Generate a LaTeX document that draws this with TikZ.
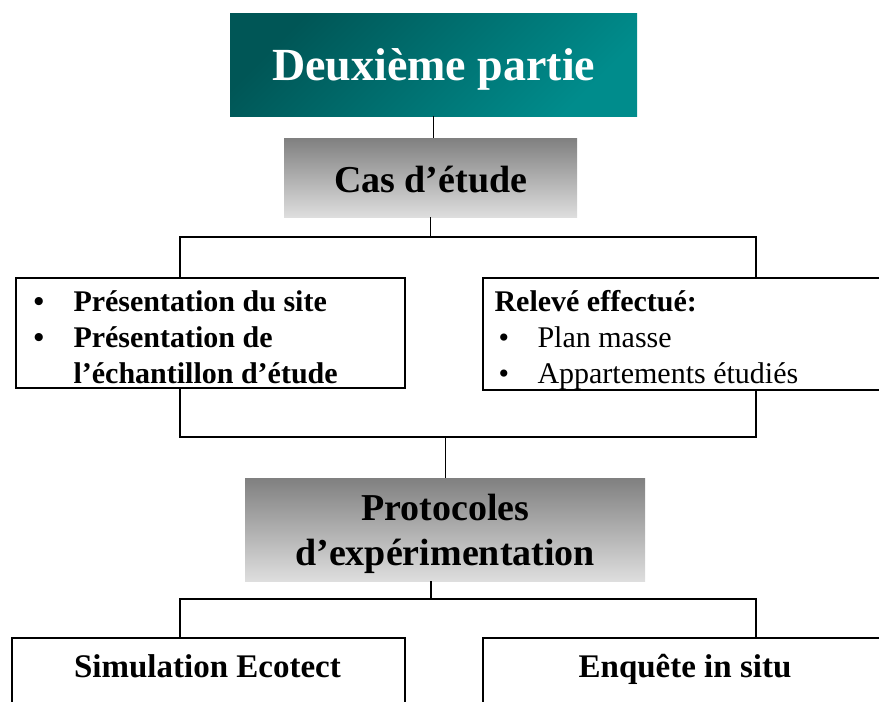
\documentclass[tikz,border=0pt]{standalone}
\usepackage{fontspec}
\setmainfont{Liberation Serif}
\usetikzlibrary{calc}
\definecolor{tealdark}{RGB}{0,86,86}
\definecolor{teallight}{RGB}{0,140,140}
\definecolor{greytop}{RGB}{128,128,128}
\definecolor{greybot}{RGB}{222,222,222}
\newcommand{\titlefont}{\fontsize{46}{50}\selectfont\bfseries}
\newcommand{\headfont}{\fontsize{38}{45}\selectfont\bfseries}
\newcommand{\itemfont}{\fontsize{30}{36}\selectfont}
\newcommand{\footfont}{\fontsize{33}{40}\selectfont\bfseries}
\tikzset{
  titlebox/.style={anchor=north west, inner sep=0pt, top color=tealdark,
    bottom color=teallight, shading angle=45, text=white, font=\titlefont,
    text height=41pt, text depth=10pt},
  greybox/.style={anchor=north west, inner sep=0pt, top color=greytop,
    bottom color=greybot, font=\headfont},
  whitebox/.style={draw, line width=1.5pt, anchor=north west, inner sep=0pt, fill=white},
  wire/.style={line width=1.3pt},
}

\begin{document}
\begin{tikzpicture}[x=1pt,y=-1pt]
    \useasboundingbox (0,0) rectangle (879,702);
    \clip (0,0) rectangle (879,702);

    \node[titlebox, minimum width=407pt, minimum height=103pt] (part) at (230,13) {Deuxième partie};
    \node[greybox, minimum width=293pt, minimum height=79pt,
        text height=38pt, text depth=9pt] (cas) at (284,138) {Cas d’étude};

    \node[whitebox, minimum width=389pt, minimum height=110pt] (site) at (15,277) {};
    \node[whitebox, minimum width=420pt, minimum height=112pt] (releve) at (482,277) {};
    \node[anchor=base west, font=\itemfont\bfseries] (sitetxt) at (26,311)
        {\begin{tabular}[t]{@{}p{44pt}@{}l@{}}
            \hspace{4pt}\textbullet & Présentation du site\\
            \hspace{4pt}\textbullet & Présentation de\\
                        & l’échantillon d’étude
        \end{tabular}};
    \node[anchor=base west, font=\itemfont] (relevetxt) at (491,311)
        {\begin{tabular}[t]{@{}p{43pt}@{}l@{}}
            \multicolumn{2}{@{}l@{}}{\bfseries Relevé effectué:}\\
            \hspace{4pt}\textbullet & Plan masse\\
            \hspace{4pt}\textbullet & Appartements étudiés
        \end{tabular}};

    \node[greybox, minimum width=400pt, minimum height=103pt,
        text height=31pt, text depth=50pt] (proto) at (245,478)
        {\begin{tabular}[t]{@{}c@{}}Protocoles\\ d’expérimentation\end{tabular}};

    \node[whitebox, minimum width=393pt, minimum height=100pt] (simu) at (11,637) {};
    \node[whitebox, minimum width=420pt, minimum height=100pt] (enq) at (482,637) {};
    \node[anchor=base, font=\footfont] (simutxt) at (207.5,677) {Simulation Ecotect};
    \node[anchor=base, font=\footfont] (enqtxt) at (685,677) {Enquête in situ};

    \coordinate (al) at (180,237);
    \coordinate (ar) at (756,237);
    \coordinate (bl) at (180,437);
    \coordinate (br) at (756,437);
    \coordinate (cm) at (431,599);
    \coordinate (cl) at (180,599);
    \coordinate (cr) at (756,599);

    \draw[wire] (part.south) -- (part.south |- cas.north);
    \draw[wire] (cas.south) -- (cas.south |- al);
    \draw[wire] (site.north -| al) -- (al) -- (ar) -- (releve.north -| ar);
    \draw[wire] (site.south -| bl) -- (bl) -- (br) -- (releve.south -| br);
    \draw[wire] (proto.north) -- (proto.north |- bl);
    \draw[wire] (proto.south -| cm) -- (cm);
    \draw[wire] (simu.north -| cl) -- (cl) -- (cr) -- (enq.north -| cr);
\end{tikzpicture}
\end{document}
